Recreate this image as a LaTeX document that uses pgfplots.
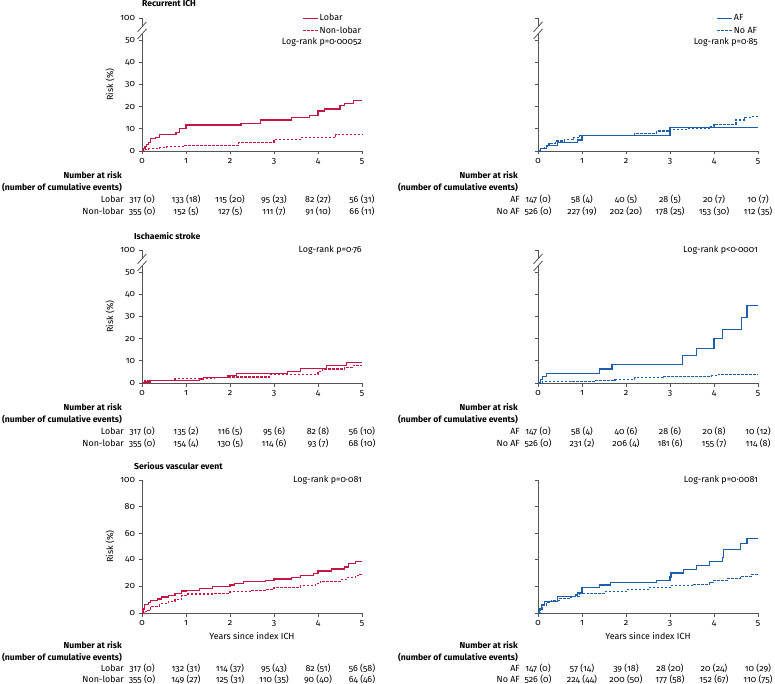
\documentclass[border=0pt]{standalone}
\usepackage{fontspec}
\setmainfont{Fira Sans}[Numbers=OldStyle]
\usepackage{pgfplots}
\pgfplotsset{compat=1.18}
\definecolor{lred}{RGB}{196,22,66}
\definecolor{lblue}{RGB}{30,94,168}
\definecolor{axgray}{RGB}{85,85,85}
\newcommand{\fs}{\fontsize{8.9}{11}\selectfont}
\newcommand{\fsb}{\fontsize{8.6}{11}\selectfont\bfseries}
\pgfplotsset{
  km/.style={width=220pt,height=133pt,scale only axis,
    xmin=0,xmax=5,ymin=0,
    axis x line*=bottom, axis y line*=left,
    x axis line style={-,draw=axgray,line width=0.9pt},
    y axis line style={-,draw=axgray,line width=0.9pt},
    xtick={0,1,2,3,4,5},
    tick style={draw=axgray,line width=0.7pt},
    tick align=outside, major tick length=3.5pt,
    /pgf/number format/assume math mode=true,
    tick label style={font=\fs},
    clip=false,
    legend cell align=left,
    legend style={draw=none,fill=none,at={(1,1)},anchor=north east,yshift=4.8pt,
      inner sep=0pt,row sep=2.8pt,font=\fs,
      nodes={inner sep=0.8pt,text height=6.4pt,text depth=1.8pt}},
    legend image code/.code={\draw[##1] (0pt,0pt) -- (15pt,0pt);},
    ylabel style={font=\fs,at={(axis description cs:-0.145,0.5)},anchor=center},
  },
  broken/.style={ymax=60,ytick={0,10,20,30,40,50,60},
    y axis line style={draw=none}},
  full/.style={ymax=100,ytick={0,20,40,60,80,100}},
  redsolid/.style={draw=lred,solid,line width=1.25pt,const plot,mark=none},
  reddash/.style={draw=lred,line width=1.1pt,const plot,mark=none,dash pattern=on 2.5pt off 1.5pt},
  bluesolid/.style={draw=lblue,solid,line width=1.25pt,const plot,mark=none},
  bluedash/.style={draw=lblue,line width=1.1pt,const plot,mark=none,dash pattern=on 2.5pt off 1.5pt},
}
% yshift label xshift v0..v5
\newcommand{\nrow}[9]{%
  \node[anchor=east,font=\fs,inner sep=0pt] at ([xshift=#3,yshift=#1]axis cs:0,0) {#2};
  \node[font=\fs,inner sep=0pt] at ([yshift=#1]axis cs:0,0) {#4};
  \node[font=\fs,inner sep=0pt] at ([yshift=#1]axis cs:1,0) {#5};
  \node[font=\fs,inner sep=0pt] at ([yshift=#1]axis cs:2,0) {#6};
  \node[font=\fs,inner sep=0pt] at ([yshift=#1]axis cs:3,0) {#7};
  \node[font=\fs,inner sep=0pt] at ([yshift=#1]axis cs:4,0) {#8};
  \node[font=\fs,inner sep=0pt] at ([yshift=#1]axis cs:5,0) {#9};
}
\newcommand{\narhead}[2]{% yshift, xshift
  \node[anchor=east,font=\fsb,inner sep=0pt] at ([xshift=#2,yshift=#1]axis cs:0,0) {Number at risk};
  \node[anchor=east,font=\fsb,inner sep=0pt] at ([xshift=#2,yshift=#1-12pt]axis cs:0,0) {(number of cumulative events)};
}
\newcommand{\brk}{%
  \draw[draw=axgray,line width=0.9pt] (axis cs:0,0) -- (axis cs:0,52.8);
  \draw[draw=axgray,line width=0.9pt] (axis cs:0,56) -- (axis cs:0,60);
  \draw[draw=axgray,line width=0.8pt] ([xshift=-4.5pt,yshift=-5pt]axis cs:0,52.8) -- ([xshift=4.5pt,yshift=5pt]axis cs:0,52.8);
  \draw[draw=axgray,line width=0.8pt] ([xshift=-4.5pt,yshift=-5pt]axis cs:0,56) -- ([xshift=4.5pt,yshift=5pt]axis cs:0,56);
}
\begin{document}
\begin{tikzpicture}
\useasboundingbox (0pt,0pt) rectangle (775pt,-684pt);

% ---------- Row 1 left: Recurrent ICH, lobar ----------
\begin{axis}[km,broken,at={(142pt,-151pt)},anchor=south west,
  yticklabels={0,10,20,30,40,50,100},ylabel={Risk (\%)}]
\addplot[redsolid] coordinates {(0,0) (0.03,1) (0.07,2) (0.1,3) (0.15,4) (0.2,5.5) (0.3,6) (0.4,7.5) (0.77,8.5) (0.85,10) (1.0,11.7) (2.25,12.4) (2.7,14) (3.4,15) (3.8,16) (4.0,18) (4.15,19) (4.5,20.5) (4.6,21.5) (4.8,22.7) (5,22.7)};
\addlegendentry{Lobar}
\addplot[reddash] coordinates {(0,0) (0.05,0.5) (0.15,1) (0.4,1.5) (0.55,2) (0.95,2.6) (2.2,4) (3.0,5) (3.6,6) (4.4,7.3) (5,7.3)};
\addlegendentry{Non-lobar}
\brk
\node[anchor=east,font=\fs,inner sep=0pt] at ([yshift=-24pt]rel axis cs:1,1) {Log-rank p=0·00052};
\node[anchor=west,font=\fsb,inner sep=0pt] at ([yshift=14pt]rel axis cs:0,1) {Recurrent ICH};
\narhead{-24pt}{-20pt}
\nrow{-48pt}{Lobar}{-18pt}{317 (0)}{133 (18)}{115 (20)}{95 (23)}{82 (27)}{56 (31)}
\nrow{-60pt}{Non-lobar}{-18pt}{355 (0)}{152 (5)}{127 (5)}{111 (7)}{91 (10)}{66 (11)}
\end{axis}

% ---------- Row 1 right: Recurrent ICH, AF ----------
\begin{axis}[km,broken,at={(538pt,-151pt)},anchor=south west,yticklabels={}]
\addplot[bluesolid] coordinates {(0,0) (0.05,1) (0.2,2.5) (0.45,3.8) (0.9,5) (1.0,7) (3.0,10.5) (5,10.5)};
\addlegendentry{AF}
\addplot[bluedash] coordinates {(0,0) (0.05,1) (0.15,2) (0.25,3.5) (0.4,4.5) (0.6,5) (0.8,6) (0.95,7) (2.2,8) (2.7,9) (3.0,9.5) (3.4,10) (3.9,11) (4.0,12) (4.5,14) (4.7,15) (4.85,15.5) (5,15.5)};
\addlegendentry{No AF}
\brk
\node[anchor=east,font=\fs,inner sep=0pt] at ([yshift=-24pt]rel axis cs:1,1) {Log-rank p=0·85};
\narhead{-24pt}{-20pt}
\nrow{-48pt}{AF}{-18pt}{147 (0)}{58 (4)}{40 (5)}{28 (5)}{20 (7)}{10 (7)}
\nrow{-60pt}{No AF}{-18pt}{526 (0)}{227 (19)}{202 (20)}{178 (25)}{153 (30)}{112 (35)}
\end{axis}

% ---------- Row 2 left: Ischaemic stroke, lobar ----------
\begin{axis}[km,broken,at={(142pt,-383pt)},anchor=south west,
  yticklabels={0,10,20,30,40,50,100},ylabel={Risk (\%)}]
\addplot[redsolid] coordinates {(0,0) (0.05,0.5) (0.2,1) (1.3,1.8) (1.4,2.5) (1.95,3.3) (2.15,4.3) (3.3,5.3) (3.6,6.5) (4.2,7.8) (4.65,9.2) (5,9.2)};
\addplot[reddash] coordinates {(0,0) (0.05,1.2) (0.75,2) (1.65,2.3) (1.95,2.7) (2.9,3.7) (4.0,5) (4.1,6.3) (4.6,7) (4.8,8) (5,8)};
\brk
\node[anchor=east,font=\fs,inner sep=0pt] at (rel axis cs:1,1) {Log-rank p=0·76};
\node[anchor=west,font=\fsb,inner sep=0pt] at ([xshift=-8pt,yshift=14pt]rel axis cs:0,1) {Ischaemic stroke};
\narhead{-24pt}{-20pt}
\nrow{-48pt}{Lobar}{-18pt}{317 (0)}{135 (2)}{116 (5)}{95 (6)}{82 (8)}{56 (10)}
\nrow{-60pt}{Non-lobar}{-18pt}{355 (0)}{154 (4)}{130 (5)}{114 (6)}{93 (7)}{68 (10)}
\end{axis}

% ---------- Row 2 right: Ischaemic stroke, AF ----------
\begin{axis}[km,broken,at={(538pt,-383pt)},anchor=south west,yticklabels={}]
\addplot[bluesolid] coordinates {(0,0) (0.05,1.5) (0.1,3) (0.2,4.3) (1.4,6.3) (1.68,8.5) (3.28,12.3) (3.6,15.5) (4.0,20) (4.2,24) (4.63,29.5) (4.75,35) (5,35)};
\addplot[bluedash] coordinates {(0,0) (0.1,0.5) (0.75,0.8) (1.3,1.2) (1.75,1.5) (2.2,2.3) (2.85,3) (3.95,3.3) (4.1,4) (5,4)};
\brk
\node[anchor=east,font=\fs,inner sep=0pt] at (rel axis cs:1,1) {Log-rank p<0·0001};
\narhead{-24pt}{-20pt}
\nrow{-48pt}{AF}{-18pt}{147 (0)}{58 (4)}{40 (6)}{28 (6)}{20 (8)}{10 (12)}
\nrow{-60pt}{No AF}{-18pt}{526 (0)}{231 (2)}{206 (4)}{181 (6)}{155 (7)}{114 (8)}
\end{axis}

% ---------- Row 3 left: Serious vascular event, lobar ----------
\begin{axis}[km,full,at={(142pt,-613pt)},anchor=south west,ylabel={Risk (\%)},
  xlabel={Years since index ICH},xlabel style={font=\fs,at={(axis description cs:0.5,0)},yshift=-23pt,anchor=center}]
\addplot[redsolid] coordinates {(0,0) (0.02,3) (0.05,6.5) (0.15,8) (0.2,9.5) (0.35,10.5) (0.45,12) (0.6,13) (0.75,14.5) (0.9,16.5) (1.0,17) (1.3,18.5) (1.6,20) (2.0,21) (2.1,22) (2.3,23.5) (2.8,24.5) (3.0,25.5) (3.4,26.5) (3.6,28) (3.9,29.5) (4.0,31.5) (4.3,33) (4.6,34.5) (4.7,37) (4.85,38.5) (5,38.5)};
\addplot[reddash] coordinates {(0,0) (0.05,1) (0.1,2) (0.2,5) (0.4,7) (0.6,8.5) (0.75,10) (0.9,13.5) (1.0,14.3) (1.6,15) (2.0,16) (2.5,17) (2.8,18) (3.0,19.5) (3.6,20.5) (3.95,22) (4.05,24) (4.5,25) (4.65,26.5) (4.85,28) (4.95,29) (5,29)};
\node[anchor=east,font=\fs,inner sep=0pt] at (rel axis cs:1,1) {Log-rank p=0·081};
\node[anchor=west,font=\fsb,inner sep=0pt] at ([xshift=-8pt,yshift=14pt]rel axis cs:0,1) {Serious vascular event};
\narhead{-32pt}{-20pt}
\nrow{-55pt}{Lobar}{-18pt}{317 (0)}{132 (31)}{114 (37)}{95 (43)}{82 (51)}{56 (58)}
\nrow{-66pt}{Non-lobar}{-18pt}{355 (0)}{149 (27)}{125 (31)}{110 (35)}{90 (40)}{64 (46)}
\end{axis}

% ---------- Row 3 right: Serious vascular event, AF ----------
\begin{axis}[km,full,at={(538pt,-613pt)},anchor=south west,yticklabels={},
  xlabel={Years since index ICH},xlabel style={font=\fs,at={(axis description cs:0.5,0)},yshift=-23pt,anchor=center}]
\addplot[bluesolid] coordinates {(0,0) (0.03,3) (0.08,6.5) (0.15,8.5) (0.45,12.5) (0.85,13.5) (0.9,15) (1.0,19) (1.4,21) (1.65,23) (2.7,24.5) (3.0,27) (3.02,30) (3.3,32.5) (3.6,36) (3.9,39) (4.2,42) (4.22,47.5) (4.6,52) (4.75,56) (5,56)};
\addplot[bluedash] coordinates {(0,0) (0.05,3) (0.1,6) (0.2,8) (0.3,9.5) (0.5,11) (0.75,12.5) (0.95,14.5) (1.2,15) (1.5,16) (2.0,17.5) (2.5,19) (3.0,20.5) (3.5,21.5) (3.9,23) (4.0,24.5) (4.3,26) (4.6,27.5) (4.85,29) (5,30)};
\node[anchor=east,font=\fs,inner sep=0pt] at (rel axis cs:1,1) {Log-rank p=0·0081};
\narhead{-32pt}{-20pt}
\nrow{-55pt}{AF}{-18pt}{147 (0)}{57 (14)}{39 (18)}{28 (20)}{20 (24)}{10 (29)}
\nrow{-66pt}{No AF}{-18pt}{526 (0)}{224 (44)}{200 (50)}{177 (58)}{152 (67)}{110 (75)}
\end{axis}
\end{tikzpicture}
\end{document}
